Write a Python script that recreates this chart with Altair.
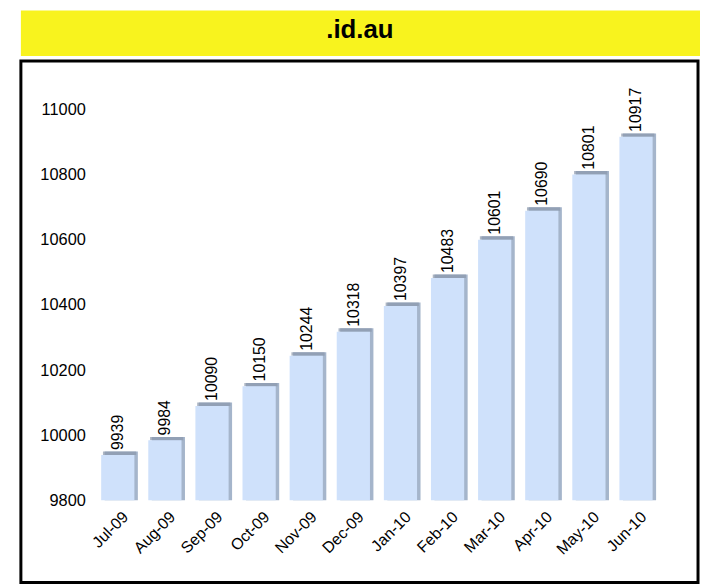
import altair as alt
import pandas as pd

TITLE = ".id.au"
months = ["Jul-09", "Aug-09", "Sep-09", "Oct-09", "Nov-09", "Dec-09",
          "Jan-10", "Feb-10", "Mar-10", "Apr-10", "May-10", "Jun-10"]
values = [9939, 9984, 10090, 10150, 10244, 10318,
          10397, 10483, 10601, 10690, 10801, 10917]
y_ticks = [9800, 10000, 10200, 10400, 10600, 10800, 11000]
BASE = 9800

df = pd.DataFrame({"month": months, "value": values, "base": [BASE] * len(values)})

FONT = "Liberation Sans"
FRONT = "#cfe1fb"
SIDE = "#a5b5cb"
TOP = "#8a97ab"

W, H = 683, 526

xscale = alt.Scale(paddingInner=0.3, paddingOuter=0, range=[81.1, 637.1])
yscale = alt.Scale(domain=[9547, 11150], nice=False, zero=False)

x_enc = alt.X("month:N", sort=months, scale=xscale,
              axis=alt.Axis(title=None, labelAngle=-45, labelAlign="right",
                            labelBaseline="middle", labelFont=FONT, labelFontSize=16,
                            labelColor="black", domain=False, ticks=False,
                            labelPadding=14, labelOffset=8, offset=-83))
y_enc = alt.Y("value:Q", scale=yscale,
              axis=alt.Axis(title=None, values=y_ticks, format="d", labelFont=FONT,
                            labelFontSize=16.5, labelColor="black", domain=False,
                            ticks=False, tickSize=0, grid=False, labelPadding=4,
                            offset=-69))

base = alt.Chart(df)

back = base.mark_bar(width=33.5, xOffset=3.5, yOffset=-3.5, color=SIDE).encode(
    x=x_enc, y=y_enc, y2="base:Q")
top = base.mark_tick(size=33.5, thickness=3.5, xOffset=1.8, yOffset=-1.75, color=TOP).encode(
    x=alt.X("month:N", sort=months), y=alt.Y("value:Q"))
front = base.mark_bar(width=33.5, color=FRONT).encode(
    x=alt.X("month:N", sort=months), y=alt.Y("value:Q"), y2="base:Q")
labels = base.mark_text(angle=270, align="left", baseline="middle", yOffset=-5, xOffset=0.5,
                        font=FONT, fontSize=16, color="black").encode(
    x=alt.X("month:N", sort=months), y=alt.Y("value:Q"), text="value:Q")

main = alt.layer(back, top, front, labels).properties(
    width=W, height=H,
    view=alt.ViewBackground(fill="white", stroke="black", strokeWidth=3))

banner = alt.Chart(pd.DataFrame({"t": [TITLE]})).mark_text(
    font=FONT, fontSize=26, fontWeight="bold", color="black",
    align="center", baseline="middle").encode(
    text="t:N", x=alt.value(342), y=alt.value(20)).properties(
    width=685, height=46,
    view=alt.ViewBackground(fill="#f8f31e", stroke="#f8f31e", strokeWidth=0))

chart = alt.vconcat(banner, main, spacing=3).properties(
    padding={"left": 11, "top": 0, "right": 0, "bottom": 0},
    background="white")

chart.save("out.html", embed_options={"renderer": "svg", "actions": False})
